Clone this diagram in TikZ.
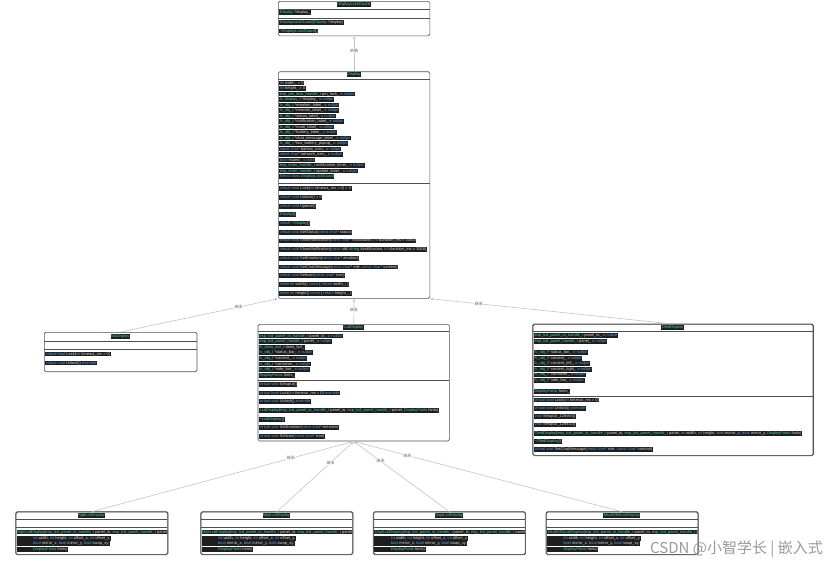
\documentclass[tikz,border=0pt]{standalone}
\usepackage{fontspec}
\setmainfont{Liberation Sans}
\newfontfamily\cjk{Noto Sans CJK SC}
\usetikzlibrary{arrows.meta}
\definecolor{codebg}{HTML}{1E1E1E}
\definecolor{codefg}{HTML}{D4D4D4}
\definecolor{kwc}{HTML}{569CD6}
\definecolor{tyc}{HTML}{4EC9B0}
\definecolor{boxline}{HTML}{505050}
\definecolor{edgec}{HTML}{C4C4C4}
\newcommand\kw[1]{\textcolor{kwc}{#1}}
\newcommand\ty[1]{\textcolor{tyc}{#1}}
\newcounter{lnc}
\newcommand\cl[3]{\stepcounter{lnc}\node[codeline] (t\arabic{lnc}) at (#1,#2) {#3};}
\newcommand\subbox[3]{%
  \node[classbox, minimum width=151.6pt, minimum height=42.3pt] (#2) at (#1,511.7) {};
  \node[titleline] (#2t) at (#1+75.8,515.6) {#3};
  \draw[divider] (#1,519) -- (#1+151.6,519);
  \draw[divider] (#1,527.7) -- (#1+151.6,527.7);
  \begin{scope}
    \clip (#1,511.7) rectangle (#1+151.6,554);
    \cl{#1+0.8}{532}{\ty{#3}(\ty{esp\_lcd\_panel\_io\_handle\_t} panel\_io, \ty{esp\_lcd\_panel\_handle\_t} panel,}
    \cl{#1+0.8}{538.3}{\hspace*{16pt}\kw{int} width, \kw{int} height, \kw{int} offset\_x, \kw{int} offset\_y,}
    \cl{#1+0.8}{543.8}{\hspace*{16pt}\kw{bool} mirror\_x, \kw{bool} mirror\_y, \kw{bool} swap\_xy,}
    \cl{#1+0.8}{549.3}{\hspace*{16pt}\ty{DisplayFonts} fonts)}
  \end{scope}
  \draw[boxoutline] (#2.south west) rectangle (#2.north east);
}
\tikzset{
  codeline/.style={anchor=west, fill=codebg, text=codefg, font=\fontsize{4}{4.5}\selectfont,
    inner xsep=0.5pt, inner ysep=0.4pt, text height=3pt, text depth=1pt},
  titleline/.style={codeline, anchor=center, text=tyc},
  classbox/.style={draw=boxline, line width=0.7pt, rounded corners=1.5pt, fill=white,
    anchor=north west, inner sep=0pt},
  boxoutline/.style={draw=boxline, line width=0.7pt, rounded corners=1.5pt},
  divider/.style={draw=boxline, line width=0.5pt},
  inh/.style={draw=edgec, line width=0.6pt, -{Triangle[open,length=3pt,width=3pt]}},
  elabel/.style={font=\cjk\fontsize{4}{5}\selectfont, text=black!60, fill=white, inner sep=0.5pt},
}
\begin{document}
\begin{tikzpicture}[x=1pt,y=-1pt]
\useasboundingbox (0,0) rectangle (828,565);
\fill[white] (0,0) rectangle (828,565);

% ---------- DisplayLockGuard ----------
\node[classbox, minimum width=151.5pt, minimum height=34.5pt] (lock) at (278,1) {};
\node[titleline] (lockt) at (353.75,4.6) {DisplayLockGuard};
\draw[divider] (278,9.3) -- (429.5,9.3);
\cl{279.2}{12.7}{\ty{Display} *display\_}
\draw[divider] (278,18.3) -- (429.5,18.3);
\cl{279.2}{22.7}{\ty{DisplayLockGuard}(\ty{Display} *display)}
\cl{279.2}{31}{\textasciitilde\ty{DisplayLockGuard}()}

% ---------- Display ----------
\node[classbox, minimum width=151.5pt, minimum height=226.7pt] (disp) at (278,71.3) {};
\node[titleline] (dispt) at (353.75,74.8) {Display};
\draw[divider] (278,79.7) -- (429.5,79.7);
\cl{279.2}{83}{\kw{int} width\_ = 0}
\cl{279.2}{88.5}{\kw{int} height\_ = 0}
\cl{279.2}{94}{\ty{esp\_pm\_lock\_handle\_t} pm\_lock\_ = \kw{nullptr}}
\cl{279.2}{99.5}{\ty{lv\_display\_t} *display\_ = \kw{nullptr}}
\cl{279.2}{105}{\ty{lv\_obj\_t} *emotion\_label\_ = \kw{nullptr}}
\cl{279.2}{110.5}{\ty{lv\_obj\_t} *network\_label\_ = \kw{nullptr}}
\cl{279.2}{116}{\ty{lv\_obj\_t} *status\_label\_ = \kw{nullptr}}
\cl{279.2}{121.5}{\ty{lv\_obj\_t} *notification\_label\_ = \kw{nullptr}}
\cl{279.2}{127}{\ty{lv\_obj\_t} *mute\_label\_ = \kw{nullptr}}
\cl{279.2}{132.5}{\ty{lv\_obj\_t} *battery\_label\_ = \kw{nullptr}}
\cl{279.2}{138}{\ty{lv\_obj\_t} *chat\_message\_label\_ = \kw{nullptr}}
\cl{279.2}{143.5}{\ty{lv\_obj\_t} *low\_battery\_popup\_ = \kw{nullptr}}
\cl{279.2}{149}{\kw{const char}* battery\_icon\_ = \kw{nullptr}}
\cl{279.2}{154.5}{\kw{const char}* network\_icon\_ = \kw{nullptr}}
\cl{279.2}{160}{\kw{bool} muted\_ = \kw{false}}
\cl{279.2}{165.5}{\ty{esp\_timer\_handle\_t} notification\_timer\_ = \kw{nullptr}}
\cl{279.2}{171}{\ty{esp\_timer\_handle\_t} update\_timer\_ = \kw{nullptr}}
\cl{279.2}{176.5}{\kw{friend class} \ty{DisplayLockGuard}}
\draw[divider] (278,183.5) -- (429.5,183.5);
\cl{279.2}{188.7}{\kw{virtual bool} Lock(\kw{int} timeout\_ms = 0) = 0}
\cl{279.2}{197.4}{\kw{virtual void} Unlock() = 0}
\cl{279.2}{206.1}{\kw{virtual void} Update()}
\cl{279.2}{214.8}{\ty{Display}()}
\cl{279.2}{223.5}{\kw{virtual} \textasciitilde\ty{Display}()}
\cl{279.2}{232.2}{\kw{virtual void} SetStatus(\kw{const char}* status)}
\cl{279.2}{240.9}{\kw{virtual void} ShowNotification(\kw{const char}* notification, \kw{int} duration\_ms = 3000)}
\cl{279.2}{249.6}{\kw{virtual void} ShowNotification(\kw{const} std::\ty{string} \&notification, \kw{int} duration\_ms = 3000)}
\cl{279.2}{258.3}{\kw{virtual void} SetEmotion(\kw{const char}* emotion)}
\cl{279.2}{267}{\kw{virtual void} SetChatMessage(\kw{const char}* role, \kw{const char}* content)}
\cl{279.2}{275.7}{\kw{virtual void} SetIcon(\kw{const char}* icon)}
\cl{279.2}{284.4}{\kw{inline int} width() \kw{const} \{ \kw{return} width\_; \}}
\cl{279.2}{293.1}{\kw{inline int} height() \kw{const} \{ \kw{return} height\_; \}}

% ---------- NoDisplay ----------
\node[classbox, minimum width=152.7pt, minimum height=39.3pt] (nod) at (44,332) {};
\node[titleline] (nodt) at (120.35,336.4) {NoDisplay};
\draw[divider] (44,341.3) -- (196.7,341.3);
\draw[divider] (44,349.7) -- (196.7,349.7);
\cl{45.2}{354}{\kw{virtual bool} Lock(\kw{int} timeout\_ms = 0)}
\cl{45.2}{363}{\kw{virtual void} Unlock() \kw{override}}

% ---------- LcdDisplay ----------
\node[classbox, minimum width=191.3pt, minimum height=116.7pt] (lcd) at (257.7,324) {};
\node[titleline] (lcdt) at (353.35,327.6) {LcdDisplay};
\draw[divider] (257.7,331.7) -- (449,331.7);
\cl{258.9}{336}{\ty{esp\_lcd\_panel\_io\_handle\_t} panel\_io\_ = \kw{nullptr}}
\cl{258.9}{341.6}{\ty{esp\_lcd\_panel\_handle\_t} panel\_ = \kw{nullptr}}
\cl{258.9}{347.2}{\ty{lv\_draw\_buf\_t} draw\_buf\_}
\cl{258.9}{352.8}{\ty{lv\_obj\_t} *status\_bar\_ = \kw{nullptr}}
\cl{258.9}{358.4}{\ty{lv\_obj\_t} *content\_ = \kw{nullptr}}
\cl{258.9}{364}{\ty{lv\_obj\_t} *container\_ = \kw{nullptr}}
\cl{258.9}{369.6}{\ty{lv\_obj\_t} *side\_bar\_ = \kw{nullptr}}
\cl{258.9}{375.2}{\ty{DisplayFonts} fonts\_}
\draw[divider] (257.7,380) -- (449,380);
\cl{258.9}{384.3}{\kw{virtual void} SetupUI()}
\cl{258.9}{393}{\kw{virtual bool} Lock(\kw{int} timeout\_ms = 0) \kw{override}}
\cl{258.9}{401.7}{\kw{virtual void} Unlock() \kw{override}}
\cl{258.9}{410.4}{\ty{LcdDisplay}(\ty{esp\_lcd\_panel\_io\_handle\_t} panel\_io, \ty{esp\_lcd\_panel\_handle\_t} panel, \ty{DisplayFonts} fonts)}
\cl{258.9}{419.1}{\textasciitilde\ty{LcdDisplay}()}
\cl{258.9}{427.8}{\kw{virtual void} SetEmotion(\kw{const char}* emotion)}
\cl{258.9}{436.5}{\kw{virtual void} SetIcon(\kw{const char}* icon)}

% ---------- OledDisplay ----------
\node[classbox, minimum width=280pt, minimum height=131pt] (oled) at (532.7,324) {};
\node[titleline] (oledt) at (672.7,327.6) {OledDisplay};
\draw[divider] (532.7,331.7) -- (812.7,331.7);
\cl{533.9}{335.7}{\ty{esp\_lcd\_panel\_io\_handle\_t} panel\_io\_ = \kw{nullptr}}
\cl{533.9}{341.3}{\ty{esp\_lcd\_panel\_handle\_t} panel\_ = \kw{nullptr}}
\cl{533.9}{352.5}{\ty{lv\_obj\_t}* status\_bar\_ = \kw{nullptr}}
\cl{533.9}{358.1}{\ty{lv\_obj\_t}* content\_ = \kw{nullptr}}
\cl{533.9}{363.7}{\ty{lv\_obj\_t}* content\_left\_ = \kw{nullptr}}
\cl{533.9}{369.3}{\ty{lv\_obj\_t}* content\_right\_ = \kw{nullptr}}
\cl{533.9}{374.9}{\ty{lv\_obj\_t}* container\_ = \kw{nullptr}}
\cl{533.9}{380.5}{\ty{lv\_obj\_t}* side\_bar\_ = \kw{nullptr}}
\cl{533.9}{391.7}{\ty{DisplayFonts} fonts\_}
\draw[divider] (532.7,396) -- (812.7,396);
\begin{scope}
  \clip (532.7,396) rectangle (812.7,455);
  \cl{533.9}{400}{\kw{virtual bool} Lock(\kw{int} timeout\_ms = 0)}
  \cl{533.9}{408.3}{\kw{virtual void} Unlock() \kw{override}}
  \cl{533.9}{416.6}{\kw{void} SetupUI\_128x64()}
  \cl{533.9}{424.9}{\kw{void} SetupUI\_128x32()}
  \cl{533.9}{433.2}{\ty{OledDisplay}(\ty{esp\_lcd\_panel\_io\_handle\_t} panel\_io, \ty{esp\_lcd\_panel\_handle\_t} panel, \kw{int} width, \kw{int} height, \kw{bool} mirror\_x, \kw{bool} mirror\_y, \ty{DisplayFonts} fonts)}
  \cl{533.9}{441.5}{\textasciitilde\ty{OledDisplay}()}
  \cl{533.9}{449.8}{\kw{virtual void} SetChatMessage(\kw{const char}* role, \kw{const char}* content)}
\end{scope}
\draw[boxoutline] (oled.south west) rectangle (oled.north east);

% ---------- LCD subclasses ----------
\subbox{15.7}{rgb}{RgbLcdDisplay}
\subbox{200.7}{mipi}{MipiLcdDisplay}
\subbox{373.3}{qspi}{QspiLcdDisplay}
\subbox{546}{mcu}{Mcu8080LcdDisplay}

% ---------- connectors ----------
\draw[inh] (disp.north) -- (lock.south) node[elabel, pos=0.58] (l0) {依赖};
\draw[inh] (nod.north) -- (disp.south west) node[elabel, pos=0.75] (l1) {继承};
\draw[inh] (lcd.north) -- (disp.south) node[elabel, pos=0.54] (l2) {继承};
\draw[inh] (oled.north) -- (disp.south east) node[elabel, pos=0.80] (l3) {继承};
\draw[inh] (rgb.north) -- (lcd.south) node[elabel, pos=0.76] (l4) {继承};
\draw[inh] (mipi.north) -- (lcd.south) node[elabel, pos=0.70] (l5) {继承};
\draw[inh] (qspi.north) -- (lcd.south) node[elabel, pos=0.72] (l6) {继承};
\draw[inh] (mcu.north) -- (lcd.south) node[elabel, pos=0.80] (l7) {继承};

% ---------- watermark ----------
\node[font=\cjk\fontsize{15}{16}\selectfont, text=black!40, anchor=east, inner sep=0pt] (wm) at (823,549) {CSDN @小智学长 | 嵌入式};
\end{tikzpicture}
\end{document}
